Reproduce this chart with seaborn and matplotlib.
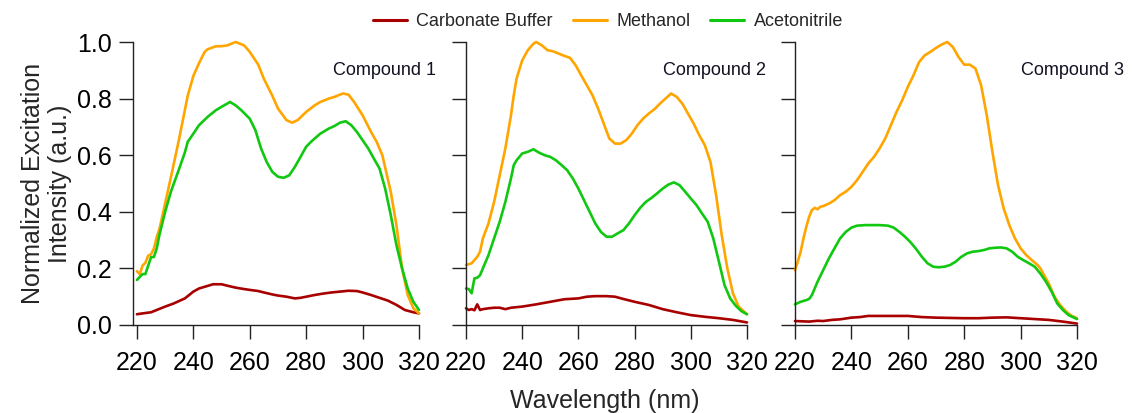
import numpy as np
import pandas as pd
import matplotlib
matplotlib.use("Agg")
import matplotlib.pyplot as plt
import seaborn as sns

# ---------------- data: normalized excitation spectra ----------------
solvents = ["Carbonate Buffer", "Methanol", "Acetonitrile"]
compounds = ["Compound 1", "Compound 2", "Compound 3"]
colors = ["#A80000", "#FFA500", "#11C811"]

# Compound 1
c1_buffer_nm = [220, 222, 225, 227, 230, 233, 235, 237, 240, 242, 244, 247, 250, 252, 255, 258,
                260, 263, 265, 268, 270, 273, 276, 278, 280, 283, 286, 289, 292, 295, 298, 300,
                303, 306, 309, 312, 315, 318, 320]
c1_buffer = [0.038, 0.041, 0.045, 0.053, 0.065, 0.076, 0.085, 0.094, 0.118, 0.129, 0.135, 0.144,
             0.144, 0.139, 0.132, 0.127, 0.124, 0.120, 0.115, 0.108, 0.104, 0.100, 0.094, 0.096,
             0.100, 0.106, 0.111, 0.115, 0.118, 0.121, 0.120, 0.115, 0.106, 0.096, 0.086, 0.071,
             0.053, 0.045, 0.041]
c1_methanol_nm = [220, 221, 222, 223, 224, 225, 226, 227, 228, 230, 232, 235, 237, 238, 240, 242,
                  244, 245, 248, 250, 252, 255, 258, 260, 263, 265, 268, 270, 273, 275, 277, 280,
                  283, 285, 288, 290, 293, 295, 297, 300, 303, 305, 307, 310, 312, 314, 316, 318, 320]
c1_methanol = [0.19, 0.18, 0.21, 0.22, 0.245, 0.25, 0.27, 0.31, 0.34, 0.43, 0.52, 0.66, 0.76, 0.81,
               0.88, 0.925, 0.965, 0.974, 0.985, 0.985, 0.988, 1.0, 0.988, 0.965, 0.92, 0.87, 0.81,
               0.765, 0.724, 0.715, 0.724, 0.753, 0.776, 0.788, 0.80, 0.806, 0.818, 0.814, 0.788,
               0.741, 0.682, 0.647, 0.60, 0.47, 0.353, 0.20, 0.106, 0.059, 0.041]
c1_acetonitrile_nm = [220, 221, 222, 223, 224, 225, 226, 227, 228, 230, 232, 235, 237, 238, 240, 242,
                      245, 248, 250, 253, 255, 257, 260, 262, 264, 266, 268, 270, 272, 274, 276, 278,
                      280, 282, 285, 288, 290, 292, 294, 296, 298, 300, 302, 304, 306, 308, 310, 312,
                      314, 316, 318, 320]
c1_acetonitrile = [0.159, 0.17, 0.18, 0.18, 0.21, 0.24, 0.24, 0.27, 0.32, 0.40, 0.47, 0.553, 0.61,
                   0.647, 0.676, 0.706, 0.735, 0.759, 0.771, 0.788, 0.776, 0.759, 0.729, 0.688, 0.624,
                   0.576, 0.541, 0.524, 0.52, 0.529, 0.559, 0.594, 0.63, 0.65, 0.676, 0.694, 0.703,
                   0.715, 0.72, 0.706, 0.682, 0.653, 0.624, 0.588, 0.553, 0.482, 0.388, 0.282, 0.20,
                   0.129, 0.082, 0.053]

# Compound 2
c2_buffer_nm = [220, 221, 222, 223, 224, 225, 226, 228, 230, 232, 234, 236, 240, 245, 250, 255,
                260, 263, 266, 270, 273, 276, 280, 285, 290, 295, 300, 305, 310, 315, 320]
c2_buffer = [0.059, 0.053, 0.056, 0.052, 0.073, 0.053, 0.056, 0.059, 0.061, 0.061, 0.056, 0.061,
             0.065, 0.073, 0.082, 0.091, 0.094, 0.100, 0.102, 0.102, 0.100, 0.092, 0.082, 0.071,
             0.056, 0.045, 0.035, 0.029, 0.024, 0.018, 0.009]
c2_methanol_nm = [220, 222, 224, 225, 226, 228, 230, 232, 234, 236, 237, 238, 240, 242, 244, 245,
                  247, 249, 251, 253, 255, 257, 259, 261, 263, 265, 267, 269, 271, 273, 275, 277,
                  279, 281, 283, 285, 287, 289, 291, 293, 295, 297, 299, 301, 303, 305, 307, 309,
                  311, 313, 315, 317, 319, 320]
c2_methanol = [0.212, 0.218, 0.241, 0.259, 0.306, 0.359, 0.435, 0.529, 0.624, 0.741, 0.812, 0.871,
               0.935, 0.971, 0.994, 1.0, 0.988, 0.971, 0.967, 0.959, 0.951, 0.944, 0.918, 0.882,
               0.847, 0.812, 0.765, 0.712, 0.659, 0.641, 0.641, 0.653, 0.676, 0.706, 0.729, 0.747,
               0.762, 0.782, 0.80, 0.818, 0.806, 0.782, 0.747, 0.712, 0.671, 0.635, 0.576, 0.459,
               0.318, 0.20, 0.112, 0.065, 0.047, 0.038]
c2_acetonitrile_nm = [220, 221, 222, 223, 224, 225, 226, 228, 230, 232, 234, 236, 237, 238, 240, 242,
                      244, 246, 248, 250, 252, 254, 256, 258, 260, 262, 264, 266, 268, 270, 272, 274,
                      276, 278, 280, 282, 284, 286, 288, 290, 292, 294, 296, 298, 300, 302, 304, 306,
                      308, 310, 312, 314, 316, 318, 320]
c2_acetonitrile = [0.129, 0.127, 0.112, 0.165, 0.167, 0.176, 0.20, 0.247, 0.306, 0.365, 0.435, 0.518,
                   0.565, 0.582, 0.606, 0.612, 0.621, 0.609, 0.60, 0.594, 0.582, 0.565, 0.547, 0.518,
                   0.482, 0.441, 0.40, 0.359, 0.329, 0.312, 0.312, 0.324, 0.335, 0.359, 0.388, 0.414,
                   0.435, 0.449, 0.465, 0.482, 0.496, 0.504, 0.494, 0.471, 0.447, 0.424, 0.394, 0.365,
                   0.306, 0.224, 0.141, 0.094, 0.068, 0.049, 0.038]

# Compound 3
c3_buffer_nm = [220, 225, 228, 230, 233, 236, 240, 243, 246, 250, 255, 260, 265, 270, 275, 280,
                285, 290, 295, 300, 305, 310, 315, 320]
c3_buffer = [0.014, 0.012, 0.015, 0.014, 0.018, 0.020, 0.026, 0.028, 0.032, 0.032, 0.032, 0.032,
             0.028, 0.026, 0.025, 0.024, 0.024, 0.026, 0.027, 0.024, 0.021, 0.018, 0.012, 0.005]
c3_methanol_nm = [220, 221, 222, 223, 224, 225, 226, 227, 228, 229, 230, 232, 234, 236, 238, 240,
                  242, 244, 246, 248, 250, 252, 254, 256, 258, 260, 262, 264, 266, 268, 270, 272,
                  274, 276, 278, 280, 282, 284, 286, 288, 290, 292, 294, 296, 298, 300, 302, 304,
                  306, 307, 308, 310, 312, 314, 316, 318, 320]
c3_methanol = [0.194, 0.224, 0.259, 0.306, 0.347, 0.382, 0.406, 0.414, 0.409, 0.418, 0.42, 0.429,
               0.441, 0.459, 0.471, 0.488, 0.512, 0.541, 0.571, 0.594, 0.624, 0.659, 0.706, 0.753,
               0.794, 0.841, 0.882, 0.929, 0.953, 0.965, 0.979, 0.991, 1.0, 0.982, 0.947, 0.92,
               0.92, 0.906, 0.847, 0.741, 0.612, 0.494, 0.412, 0.353, 0.306, 0.271, 0.247, 0.229,
               0.212, 0.20, 0.182, 0.147, 0.10, 0.071, 0.049, 0.033, 0.024]
c3_acetonitrile_nm = [220, 222, 224, 225, 226, 228, 230, 232, 234, 236, 238, 240, 242, 245, 250, 253,
                      255, 257, 259, 261, 263, 265, 267, 269, 271, 273, 275, 277, 279, 281, 283, 285,
                      287, 289, 291, 293, 295, 297, 299, 301, 303, 305, 307, 309, 311, 313, 315, 317,
                      320]
c3_acetonitrile = [0.073, 0.082, 0.088, 0.092, 0.106, 0.153, 0.194, 0.235, 0.271, 0.306, 0.329, 0.344,
                   0.351, 0.353, 0.353, 0.351, 0.344, 0.329, 0.312, 0.292, 0.268, 0.241, 0.218, 0.206,
                   0.204, 0.206, 0.212, 0.224, 0.241, 0.253, 0.259, 0.261, 0.265, 0.271, 0.273, 0.274,
                   0.271, 0.259, 0.241, 0.229, 0.218, 0.206, 0.182, 0.153, 0.118, 0.076, 0.053, 0.035,
                   0.021]

spectra = {
    "Compound 1": [(c1_buffer_nm, c1_buffer), (c1_methanol_nm, c1_methanol),
                   (c1_acetonitrile_nm, c1_acetonitrile)],
    "Compound 2": [(c2_buffer_nm, c2_buffer), (c2_methanol_nm, c2_methanol),
                   (c2_acetonitrile_nm, c2_acetonitrile)],
    "Compound 3": [(c3_buffer_nm, c3_buffer), (c3_methanol_nm, c3_methanol),
                   (c3_acetonitrile_nm, c3_acetonitrile)],
}

x_ticks = [220, 240, 260, 280, 300, 320]
y_ticks = [0.0, 0.2, 0.4, 0.6, 0.8, 1.0]

# ---------------- styling ----------------
sns.set_theme(style="ticks")
plt.rcParams["font.family"] = ["Liberation Sans", "DejaVu Sans"]
plt.rcParams.update({
    "axes.edgecolor": "#222222",
    "axes.linewidth": 1.0,
    "xtick.color": "#222222",
    "ytick.color": "#222222",
    "xtick.labelcolor": "black",
    "ytick.labelcolor": "black",
    "xtick.major.size": 10,
    "ytick.major.size": 10,
    "xtick.major.width": 1.0,
    "ytick.major.width": 1.0,
    "xtick.direction": "out",
    "ytick.direction": "out",
})

W, H = 1132, 413
fig = plt.figure(figsize=(W / 100, H / 100), dpi=100)

# panel extents in pixels: (left, right)
panel_px = [(133, 419), (466, 747), (795, 1077)]
x_lows = [218.6, 220, 220]
top_px, bottom_px = 42, 325
label_left = [0.699, 0.701, 0.801]

palette = dict(zip(solvents, colors))
axes = []
for i, comp in enumerate(compounds):
    l, r = panel_px[i]
    ax = fig.add_axes([l / W, (H - bottom_px) / H, (r - l) / W, (bottom_px - top_px) / H])
    axes.append(ax)
    frames = []
    for solvent, (nm, vals) in zip(solvents, spectra[comp]):
        frames.append(pd.DataFrame({"Wavelength": nm, "Intensity": vals, "Solvent": solvent}))
    df = pd.concat(frames, ignore_index=True)
    sns.lineplot(data=df, x="Wavelength", y="Intensity", hue="Solvent", hue_order=solvents,
                 palette=palette, estimator=None, linewidth=1.9, ax=ax, legend=(i == 0))
    for line in ax.lines:
        line.set_clip_on(False)
        line.set_solid_joinstyle("round")
    ax.set_xlim(x_lows[i], 320)
    ax.set_ylim(0, 1.0)
    ax.set_xticks(x_ticks)
    ax.set_xticklabels([str(t) for t in x_ticks])
    ax.set_yticks(y_ticks)
    if i == 0:
        ax.set_yticklabels([f"{t:.1f}" for t in y_ticks])
        ax.set_ylabel("Normalized Excitation\nIntensity (a.u.)", fontsize=18, labelpad=4,
                      linespacing=1.15)
    else:
        ax.set_yticklabels([])
        ax.set_ylabel("")
    ax.set_xlabel("")
    ax.tick_params(axis="x", labelsize=18, pad=9)
    ax.tick_params(axis="y", labelsize=18, pad=5)
    sns.despine(ax=ax)
    ax.spines["bottom"].set_bounds(x_lows[i], 320)
    ax.text(label_left[i], 0.901, comp, transform=ax.transAxes, fontsize=13,
            ha="left", va="center", color="#111122")
    ax.set_facecolor("white")

handles, labels = axes[0].get_legend_handles_labels()
axes[0].get_legend().remove()
leg = fig.legend(handles, labels, loc="center", bbox_to_anchor=(608 / W, 1 - 22 / H), ncol=3,
                 frameon=False, fontsize=13, handlelength=1.9, handletextpad=0.5,
                 columnspacing=1.1)
for h in leg.get_lines():
    h.set_linewidth(2.2)

fig.text(605 / W, 1 - 408 / H, "Wavelength (nm)", ha="center", va="baseline", fontsize=18)

fig.savefig("out.png", dpi=100, facecolor="white")
